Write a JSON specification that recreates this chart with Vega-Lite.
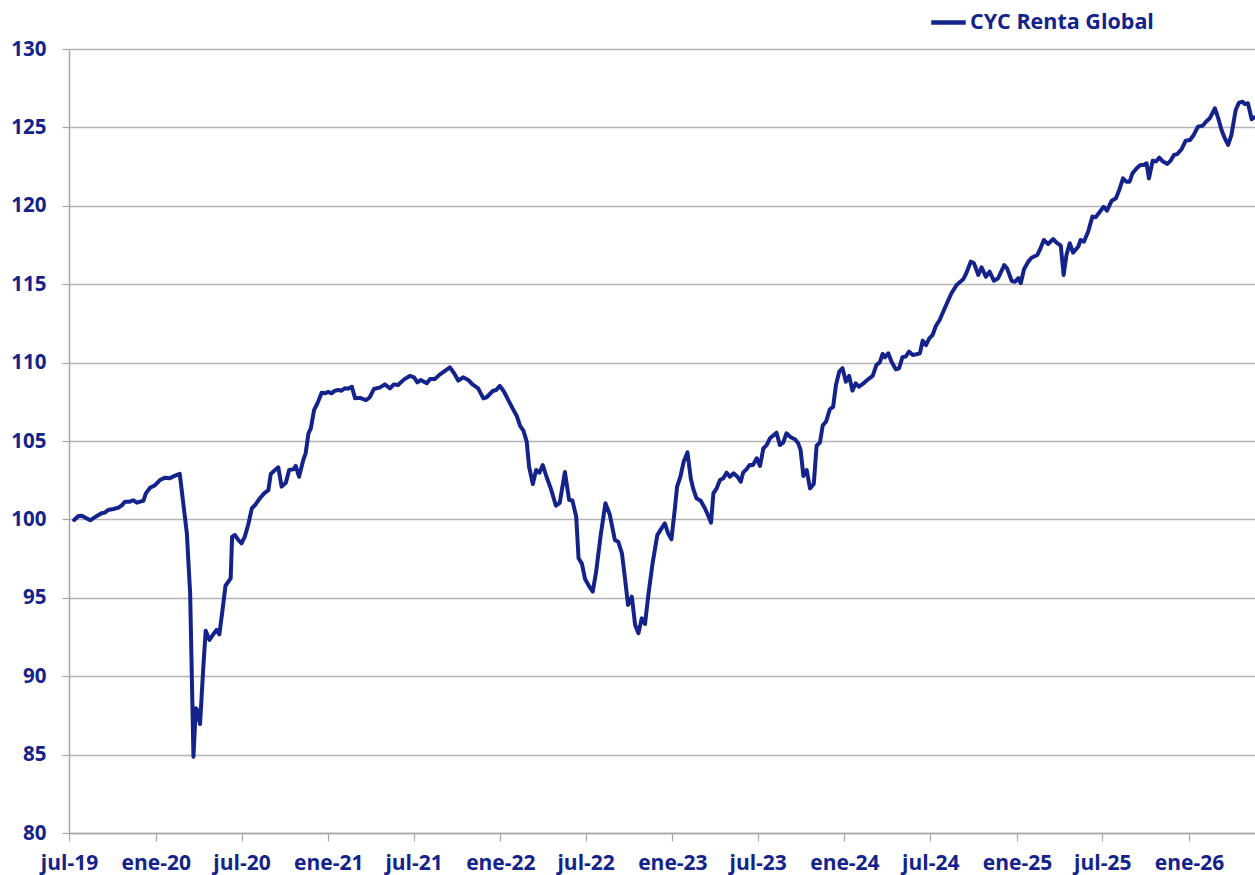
{
  "$schema": "https://vega.github.io/schema/vega-lite/v6.json",
  "width": 1186,
  "height": 784,
  "autosize": {"type": "none"},
  "padding": {"left": 69, "top": 49, "right": 0, "bottom": 42},
  "background": "white",
  "config": {
    "view": {"stroke": null},
    "font": "Open Sans"
  },
  "data": {
    "values": [
      {"d":"2019-07-12","v":99.96},{"d":"2019-07-21","v":100.22},{"d":"2019-07-28","v":100.24},{"d":"2019-08-07","v":100.07},
      {"d":"2019-08-15","v":99.94},{"d":"2019-08-29","v":100.22},{"d":"2019-09-08","v":100.39},{"d":"2019-09-15","v":100.43},
      {"d":"2019-09-22","v":100.60},{"d":"2019-10-03","v":100.66},{"d":"2019-10-14","v":100.75},{"d":"2019-10-21","v":100.90},
      {"d":"2019-10-28","v":101.13},{"d":"2019-11-07","v":101.13},{"d":"2019-11-14","v":101.22},{"d":"2019-11-22","v":101.07},
      {"d":"2019-11-29","v":101.13},{"d":"2019-12-06","v":101.19},{"d":"2019-12-11","v":101.66},{"d":"2019-12-20","v":102.02},
      {"d":"2019-12-30","v":102.17},{"d":"2020-01-10","v":102.51},{"d":"2020-01-21","v":102.66},{"d":"2020-01-31","v":102.62},
      {"d":"2020-02-11","v":102.79},{"d":"2020-02-21","v":102.90},{"d":"2020-03-07","v":99.11},{"d":"2020-03-14","v":95.29},
      {"d":"2020-03-21","v":84.87},{"d":"2020-03-26","v":87.95},{"d":"2020-03-29","v":87.84},{"d":"2020-04-04","v":86.95},
      {"d":"2020-04-11","v":90.61},{"d":"2020-04-16","v":92.90},{"d":"2020-04-24","v":92.31},{"d":"2020-05-02","v":92.67},
      {"d":"2020-05-09","v":92.95},{"d":"2020-05-15","v":92.67},{"d":"2020-05-23","v":94.54},{"d":"2020-05-28","v":95.77},
      {"d":"2020-06-08","v":96.24},{"d":"2020-06-11","v":98.90},{"d":"2020-06-17","v":99.00},{"d":"2020-06-24","v":98.69},
      {"d":"2020-07-01","v":98.47},{"d":"2020-07-08","v":98.90},{"d":"2020-07-15","v":99.64},{"d":"2020-07-23","v":100.71},
      {"d":"2020-07-30","v":100.92},{"d":"2020-08-09","v":101.35},{"d":"2020-08-18","v":101.66},{"d":"2020-08-27","v":101.87},
      {"d":"2020-09-01","v":102.90},{"d":"2020-09-10","v":103.15},{"d":"2020-09-17","v":103.32},{"d":"2020-09-24","v":102.09},
      {"d":"2020-10-03","v":102.34},{"d":"2020-10-10","v":103.15},{"d":"2020-10-19","v":103.19},{"d":"2020-10-24","v":103.41},
      {"d":"2020-10-31","v":102.72},{"d":"2020-11-09","v":103.79},{"d":"2020-11-14","v":104.21},{"d":"2020-11-20","v":105.49},
      {"d":"2020-11-25","v":105.81},{"d":"2020-12-02","v":106.98},{"d":"2020-12-09","v":107.40},{"d":"2020-12-18","v":108.08},
      {"d":"2020-12-25","v":108.04},{"d":"2021-01-01","v":108.13},{"d":"2021-01-08","v":108.04},{"d":"2021-01-15","v":108.21},
      {"d":"2021-01-22","v":108.25},{"d":"2021-01-29","v":108.21},{"d":"2021-02-05","v":108.36},{"d":"2021-02-12","v":108.34},
      {"d":"2021-02-20","v":108.46},{"d":"2021-02-27","v":107.72},{"d":"2021-03-09","v":107.75},{"d":"2021-03-22","v":107.60},
      {"d":"2021-03-30","v":107.79},{"d":"2021-04-08","v":108.32},{"d":"2021-04-21","v":108.42},{"d":"2021-05-01","v":108.61},
      {"d":"2021-05-12","v":108.36},{"d":"2021-05-20","v":108.61},{"d":"2021-05-29","v":108.57},{"d":"2021-06-11","v":108.93},
      {"d":"2021-06-23","v":109.15},{"d":"2021-07-02","v":109.06},{"d":"2021-07-09","v":108.74},{"d":"2021-07-16","v":108.89},
      {"d":"2021-07-29","v":108.68},{"d":"2021-08-05","v":108.95},{"d":"2021-08-15","v":108.95},{"d":"2021-08-26","v":109.25},
      {"d":"2021-09-06","v":109.48},{"d":"2021-09-16","v":109.70},{"d":"2021-09-25","v":109.32},{"d":"2021-10-04","v":108.85},
      {"d":"2021-10-14","v":109.06},{"d":"2021-10-25","v":108.89},{"d":"2021-11-03","v":108.61},{"d":"2021-11-15","v":108.36},
      {"d":"2021-11-26","v":107.72},{"d":"2021-12-03","v":107.79},{"d":"2021-12-16","v":108.19},{"d":"2021-12-23","v":108.25},
      {"d":"2021-12-31","v":108.51},{"d":"2022-01-09","v":108.14},{"d":"2022-01-18","v":107.61},{"d":"2022-01-27","v":107.08},
      {"d":"2022-02-05","v":106.59},{"d":"2022-02-12","v":105.96},{"d":"2022-02-19","v":105.66},{"d":"2022-02-26","v":104.96},
      {"d":"2022-03-03","v":103.36},{"d":"2022-03-11","v":102.26},{"d":"2022-03-18","v":103.15},{"d":"2022-03-25","v":102.98},
      {"d":"2022-04-01","v":103.47},{"d":"2022-04-09","v":102.72},{"d":"2022-04-18","v":101.98},{"d":"2022-04-29","v":100.87},
      {"d":"2022-05-07","v":101.05},{"d":"2022-05-18","v":103.02},{"d":"2022-05-27","v":101.24},{"d":"2022-06-03","v":101.20},
      {"d":"2022-06-11","v":100.17},{"d":"2022-06-16","v":97.52},{"d":"2022-06-23","v":97.18},{"d":"2022-06-30","v":96.18},
      {"d":"2022-07-09","v":95.71},{"d":"2022-07-16","v":95.39},{"d":"2022-07-23","v":96.60},{"d":"2022-08-02","v":99.00},
      {"d":"2022-08-12","v":101.03},{"d":"2022-08-21","v":100.33},{"d":"2022-09-01","v":98.69},{"d":"2022-09-08","v":98.58},
      {"d":"2022-09-16","v":97.84},{"d":"2022-09-22","v":96.35},{"d":"2022-09-29","v":94.54},{"d":"2022-10-07","v":95.07},
      {"d":"2022-10-14","v":93.27},{"d":"2022-10-21","v":92.74},{"d":"2022-10-28","v":93.69},{"d":"2022-11-04","v":93.33},
      {"d":"2022-11-11","v":95.18},{"d":"2022-11-20","v":97.20},{"d":"2022-11-30","v":99.00},{"d":"2022-12-09","v":99.43},
      {"d":"2022-12-16","v":99.75},{"d":"2022-12-23","v":99.11},{"d":"2022-12-30","v":98.73},{"d":"2023-01-06","v":100.60},
      {"d":"2023-01-11","v":102.09},{"d":"2023-01-18","v":102.72},{"d":"2023-01-25","v":103.68},{"d":"2023-02-02","v":104.28},
      {"d":"2023-02-09","v":102.62},{"d":"2023-02-14","v":101.98},{"d":"2023-02-21","v":101.35},{"d":"2023-03-02","v":101.19},
      {"d":"2023-03-11","v":100.71},{"d":"2023-03-19","v":100.17},{"d":"2023-03-24","v":99.79},{"d":"2023-03-29","v":101.66},
      {"d":"2023-04-05","v":101.98},{"d":"2023-04-12","v":102.51},{"d":"2023-04-19","v":102.62},{"d":"2023-04-26","v":102.98},
      {"d":"2023-05-03","v":102.72},{"d":"2023-05-11","v":102.94},{"d":"2023-05-19","v":102.72},{"d":"2023-05-26","v":102.40},
      {"d":"2023-05-31","v":102.98},{"d":"2023-06-07","v":103.19},{"d":"2023-06-14","v":103.47},{"d":"2023-06-21","v":103.47},
      {"d":"2023-06-29","v":103.90},{"d":"2023-07-06","v":103.41},{"d":"2023-07-13","v":104.53},{"d":"2023-07-20","v":104.74},
      {"d":"2023-07-27","v":105.17},{"d":"2023-08-10","v":105.53},{"d":"2023-08-17","v":104.74},{"d":"2023-08-24","v":104.89},
      {"d":"2023-08-31","v":105.49},{"d":"2023-09-09","v":105.24},{"d":"2023-09-18","v":105.11},{"d":"2023-09-25","v":104.85},
      {"d":"2023-09-30","v":104.43},{"d":"2023-10-06","v":102.77},{"d":"2023-10-13","v":103.15},{"d":"2023-10-20","v":101.98},
      {"d":"2023-10-28","v":102.26},{"d":"2023-11-03","v":104.70},{"d":"2023-11-10","v":104.90},{"d":"2023-11-16","v":106.00},
      {"d":"2023-11-23","v":106.23},{"d":"2023-12-01","v":107.02},{"d":"2023-12-08","v":107.17},{"d":"2023-12-14","v":108.57},
      {"d":"2023-12-21","v":109.42},{"d":"2023-12-28","v":109.64},{"d":"2024-01-04","v":108.78},{"d":"2024-01-11","v":109.15},
      {"d":"2024-01-18","v":108.21},{"d":"2024-01-25","v":108.68},{"d":"2024-02-01","v":108.46},{"d":"2024-02-13","v":108.74},
      {"d":"2024-02-20","v":108.93},{"d":"2024-03-01","v":109.15},{"d":"2024-03-09","v":109.85},{"d":"2024-03-16","v":110.01},
      {"d":"2024-03-22","v":110.55},{"d":"2024-03-27","v":110.34},{"d":"2024-04-03","v":110.59},{"d":"2024-04-10","v":110.06},
      {"d":"2024-04-19","v":109.57},{"d":"2024-04-26","v":109.64},{"d":"2024-05-03","v":110.34},{"d":"2024-05-10","v":110.38},
      {"d":"2024-05-17","v":110.70},{"d":"2024-05-25","v":110.49},{"d":"2024-06-02","v":110.53},{"d":"2024-06-09","v":110.59},
      {"d":"2024-06-15","v":111.40},{"d":"2024-06-22","v":111.12},{"d":"2024-06-29","v":111.55},{"d":"2024-07-06","v":111.76},
      {"d":"2024-07-13","v":112.33},{"d":"2024-07-21","v":112.72},{"d":"2024-08-01","v":113.48},{"d":"2024-08-15","v":114.42},
      {"d":"2024-08-26","v":114.95},{"d":"2024-09-09","v":115.31},{"d":"2024-09-16","v":115.73},{"d":"2024-09-25","v":116.44},
      {"d":"2024-10-02","v":116.33},{"d":"2024-10-11","v":115.59},{"d":"2024-10-18","v":116.08},{"d":"2024-10-27","v":115.48},
      {"d":"2024-11-04","v":115.80},{"d":"2024-11-13","v":115.22},{"d":"2024-11-22","v":115.38},{"d":"2024-12-05","v":116.22},
      {"d":"2024-12-11","v":116.01},{"d":"2024-12-21","v":115.20},{"d":"2024-12-28","v":115.16},{"d":"2025-01-04","v":115.38},
      {"d":"2025-01-09","v":115.06},{"d":"2025-01-16","v":115.95},{"d":"2025-01-25","v":116.44},{"d":"2025-02-01","v":116.69},
      {"d":"2025-02-13","v":116.86},{"d":"2025-02-20","v":117.29},{"d":"2025-02-27","v":117.82},{"d":"2025-03-08","v":117.56},
      {"d":"2025-03-19","v":117.88},{"d":"2025-03-26","v":117.65},{"d":"2025-04-04","v":117.46},{"d":"2025-04-10","v":115.59},
      {"d":"2025-04-16","v":116.86},{"d":"2025-04-23","v":117.61},{"d":"2025-04-30","v":117.01},{"d":"2025-05-11","v":117.39},
      {"d":"2025-05-16","v":117.82},{"d":"2025-05-23","v":117.71},{"d":"2025-06-01","v":118.35},{"d":"2025-06-10","v":119.31},
      {"d":"2025-06-17","v":119.27},{"d":"2025-06-26","v":119.62},{"d":"2025-07-04","v":119.94},{"d":"2025-07-11","v":119.69},
      {"d":"2025-07-21","v":120.33},{"d":"2025-07-30","v":120.48},{"d":"2025-08-06","v":121.01},{"d":"2025-08-14","v":121.75},
      {"d":"2025-08-21","v":121.54},{"d":"2025-08-28","v":121.54},{"d":"2025-09-03","v":122.07},{"d":"2025-09-12","v":122.39},
      {"d":"2025-09-20","v":122.60},{"d":"2025-09-27","v":122.60},{"d":"2025-10-03","v":122.71},{"d":"2025-10-08","v":121.75},
      {"d":"2025-10-16","v":122.88},{"d":"2025-10-23","v":122.82},{"d":"2025-10-30","v":123.07},{"d":"2025-11-07","v":122.82},
      {"d":"2025-11-16","v":122.67},{"d":"2025-11-23","v":122.88},{"d":"2025-11-30","v":123.24},{"d":"2025-12-07","v":123.30},
      {"d":"2025-12-16","v":123.60},{"d":"2025-12-25","v":124.15},{"d":"2026-01-03","v":124.20},{"d":"2026-01-11","v":124.52},
      {"d":"2026-01-20","v":125.04},{"d":"2026-01-30","v":125.11},{"d":"2026-02-06","v":125.36},{"d":"2026-02-14","v":125.58},
      {"d":"2026-02-25","v":126.22},{"d":"2026-03-04","v":125.58},{"d":"2026-03-11","v":124.83},{"d":"2026-03-18","v":124.30},
      {"d":"2026-03-25","v":123.88},{"d":"2026-04-01","v":124.52},{"d":"2026-04-10","v":126.11},{"d":"2026-04-17","v":126.58},
      {"d":"2026-04-25","v":126.64},{"d":"2026-04-29","v":126.49},{"d":"2026-05-06","v":126.54},{"d":"2026-05-14","v":125.52},
      {"d":"2026-05-19","v":125.64}
    ]
  },
  "mark": {"type": "line", "strokeWidth": 4, "strokeJoin": "round", "strokeCap": "round", "clip": false},
  "encoding": {
    "x": {
      "field": "d",
      "type": "temporal",
      "scale": {
        "type": "utc",
        "domain": [{"year": 2019, "month": 7, "date": 1, "utc": true}, {"year": 2026, "month": 5, "date": 21, "utc": true}]
      },
      "axis": {
        "title": null,
        "values": [
          {"year": 2019, "month": 7, "date": 1, "utc": true},
          {"year": 2020, "month": 1, "date": 1, "utc": true},
          {"year": 2020, "month": 7, "date": 1, "utc": true},
          {"year": 2021, "month": 1, "date": 1, "utc": true},
          {"year": 2021, "month": 7, "date": 1, "utc": true},
          {"year": 2022, "month": 1, "date": 1, "utc": true},
          {"year": 2022, "month": 7, "date": 1, "utc": true},
          {"year": 2023, "month": 1, "date": 1, "utc": true},
          {"year": 2023, "month": 7, "date": 1, "utc": true},
          {"year": 2024, "month": 1, "date": 1, "utc": true},
          {"year": 2024, "month": 7, "date": 1, "utc": true},
          {"year": 2025, "month": 1, "date": 1, "utc": true},
          {"year": 2025, "month": 7, "date": 1, "utc": true},
          {"year": 2026, "month": 1, "date": 1, "utc": true}
        ],
        "labelExpr": "(utcmonth(datum.value) == 0 ? 'ene-' : 'jul-') + utcFormat(datum.value, '%y')",
        "grid": false,
        "domainColor": "#a6a6a6",
        "domainWidth": 1.5,
        "tickColor": "#a6a6a6",
        "tickWidth": 1.2,
        "tickSize": 8,
        "labelPadding": 11,
        "labelFont": "Open Sans",
        "labelFontSize": 21,
        "labelFontWeight": "bold",
        "labelColor": "#14238c",
        "labelFlush": false,
        "labelOverlap": false,
        "labelAlign": "center"
      }
    },
    "y": {
      "field": "v",
      "type": "quantitative",
      "scale": {"domain": [80, 130], "nice": false, "zero": false},
      "axis": {
        "title": null,
        "values": [80, 85, 90, 95, 100, 105, 110, 115, 120, 125, 130],
        "grid": true,
        "gridColor": "#b3b3b3",
        "gridWidth": 1.3,
        "domainColor": "#a6a6a6",
        "domainWidth": 1.5,
        "tickColor": "#a6a6a6",
        "tickWidth": 1.2,
        "tickSize": 7,
        "labelPadding": 16,
        "labelFont": "Open Sans",
        "labelFontSize": 20.5,
        "labelFontWeight": "bold",
        "labelColor": "#14238c"
      }
    },
    "color": {
      "datum": "CYC Renta Global",
      "type": "nominal",
      "scale": {"range": ["#14238c"]},
      "legend": {
        "title": null,
        "orient": "none",
        "legendX": 860,
        "legendY": -46,
        "padding": 0,
        "symbolType": "stroke",
        "symbolSize": 1190,
        "symbolStrokeWidth": 4.5,
        "labelOffset": 2,
        "labelFont": "Open Sans",
        "labelFontSize": 21.5,
        "labelFontWeight": "bold",
        "labelColor": "#14238c",
        "labelLimit": 400
      }
    }
  }
}
